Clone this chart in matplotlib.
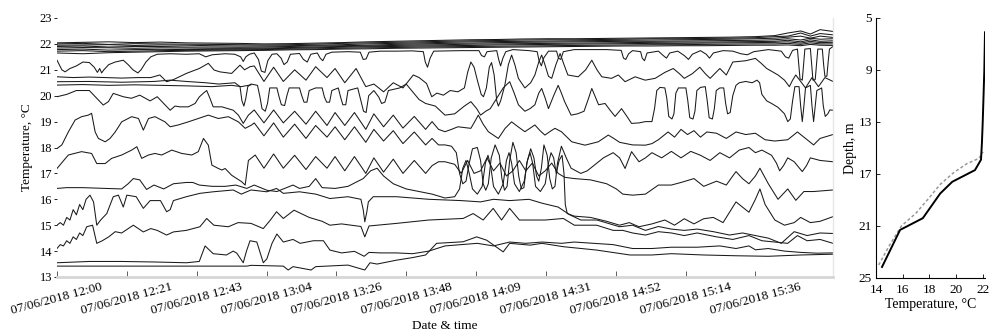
import matplotlib
matplotlib.use("Agg")
import matplotlib.pyplot as plt

plt.rcParams['font.family'] = ['Liberation Serif', 'DejaVu Serif']

# ---------------- data ----------------
tick_minutes = [0, 21.6, 43.2, 64.8, 86.4, 108, 129.6, 151.2, 172.8, 194.4, 216]
tick_labels = ["07/06/2018 12:00", "07/06/2018 12:21", "07/06/2018 12:43",
               "07/06/2018 13:04", "07/06/2018 13:26", "07/06/2018 13:48",
               "07/06/2018 14:09", "07/06/2018 14:31", "07/06/2018 14:52",
               "07/06/2018 15:14", "07/06/2018 15:36"]

t_bundle = [0, 8, 16, 24, 32, 40, 48, 56, 64, 72, 80, 88, 96, 104, 112, 120, 128, 136,
            144, 152, 160, 168, 176, 184, 192, 200, 208, 216, 222, 226, 230, 233, 236, 240]
b1 = [22.04, 22.06, 22.08, 22.05, 22.07, 22.04, 22.03, 22.02, 22.0, 22.01, 22.03, 22.05, 22.08, 22.1, 22.12, 22.14, 22.16, 22.17, 22.19, 22.2, 22.2, 22.21, 22.22, 22.23, 22.24, 22.25, 22.26, 22.28, 22.32, 22.42, 22.5, 22.38, 22.55, 22.48]
b2 = [22.0, 22.02, 21.98, 22.01, 22.0, 21.99, 21.98, 21.97, 21.96, 21.97, 21.99, 22.02, 22.04, 22.06, 22.08, 22.1, 22.12, 22.13, 22.15, 22.16, 22.16, 22.17, 22.18, 22.2, 22.2, 22.21, 22.22, 22.24, 22.28, 22.3, 22.42, 22.3, 22.4, 22.35]
b3 = [21.95, 21.96, 21.97, 21.94, 21.96, 21.95, 21.93, 21.92, 21.92, 21.93, 21.95, 21.97, 22.0, 22.02, 22.04, 22.06, 22.08, 22.09, 22.1, 22.11, 22.12, 22.13, 22.14, 22.15, 22.16, 22.17, 22.18, 22.2, 22.22, 22.26, 22.3, 22.22, 22.3, 22.25]
b4 = [21.9, 21.92, 21.88, 21.9, 21.9, 21.88, 21.88, 21.87, 21.88, 21.9, 21.92, 21.93, 21.95, 21.98, 22.0, 22.02, 22.03, 22.05, 22.06, 22.07, 22.08, 22.09, 22.1, 22.1, 22.11, 22.12, 22.13, 22.14, 22.16, 22.2, 22.15, 22.22, 22.18, 22.2]
b5 = [21.84, 21.86, 21.85, 21.83, 21.85, 21.84, 21.83, 21.83, 21.84, 21.86, 21.88, 21.9, 21.92, 21.94, 21.96, 21.97, 21.99, 22.0, 22.01, 22.02, 22.03, 22.04, 22.05, 22.06, 22.07, 22.07, 22.08, 22.09, 22.1, 22.14, 22.08, 22.16, 22.1, 22.12]
b6 = [21.78, 21.8, 21.76, 21.78, 21.79, 21.78, 21.79, 21.8, 21.81, 21.83, 21.85, 21.87, 21.89, 21.9, 21.92, 21.93, 21.94, 21.96, 21.97, 21.98, 21.99, 22.0, 22.01, 22.02, 22.02, 22.03, 22.04, 22.05, 22.06, 22.08, 22.03, 22.1, 22.05, 22.06]
b7 = [21.72, 21.74, 21.7, 21.72, 21.74, 21.75, 21.76, 21.77, 21.78, 21.8, 21.81, 21.83, 21.85, 21.86, 21.88, 21.89, 21.9, 21.91, 21.92, 21.93, 21.94, 21.95, 21.96, 21.97, 21.97, 21.98, 21.99, 22.0, 22.0, 22.02, 21.98, 22.04, 22.0, 22.0]
b8 = [21.65, 21.62, 21.66, 21.68, 21.7, 21.72, 21.73, 21.74, 21.75, 21.77, 21.78, 21.8, 21.81, 21.83, 21.84, 21.85, 21.86, 21.87, 21.88, 21.89, 21.9, 21.91, 21.92, 21.92, 21.93, 21.93, 21.94, 21.95, 21.95, 21.96, 21.93, 21.98, 21.95, 21.94]

U = [(0,21.37),(1.5,21.0),(2.5,20.92),(4,21.05),(6,21.15),(8,21.3),(10,21.28),(11.5,21.1),(12.5,20.9),(13.2,21.05),(13.8,20.88),(14.5,21.0),(16,21.2),(18,21.3),(20.5,21.37),(22,21.2),(23.5,21.0),(25,20.88),(26,21.0),(27.5,21.3),(29,21.5),(31,21.6),(35,21.62),(40,21.6),(44,21.62),(46,21.5),(48,21.58),(52,21.62),(55,21.6),(56.8,21.5),(57.6,21.32),(58.4,21.5),(59.5,21.6),(61,21.65),(62.3,21.4),(63.2,20.95),(64.3,20.9),(65.2,21.35),(66.5,21.6),(68,21.62),(69.3,21.45),(70.2,21.2),(71.2,21.3),(72.2,21.6),(75,21.63),(76.2,21.4),(77.4,21.3),(78.5,21.6),(80.5,21.65),(81.4,21.45),(82.2,21.35),(83.2,21.6),(85,21.68),(90,21.7),(93.8,21.68),(94.7,21.4),(95.6,21.42),(96.5,21.68),(100,21.72),(105,21.72),(110,21.73),(113.3,21.7),(113.9,21.3),(114.6,21.1),(115.4,21.45),(116.5,21.72),(125,21.74),(130.5,21.74),(131.3,21.55),(132.2,21.5),(133,21.7),(136,21.74),(136.6,21.4),(137.2,21.15),(137.9,21.45),(138.8,21.7),(141,21.78),(146,21.74),(148.5,21.7),(149.1,21.35),(149.8,21.15),(150.5,21.45),(152,21.72),(154.5,21.72),(155.1,21.45),(155.8,21.4),(156.6,21.7),(160,21.78),(170,21.78),(174.5,21.75),(175.2,21.45),(175.9,21.4),(176.8,21.62),(178,21.74),(180.5,21.7),(181,21.45),(181.7,21.35),(182.5,21.65),(186,21.72),(187.5,21.55),(188.5,21.45),(189.5,21.65),(192,21.72),(194,21.55),(195.3,21.4),(196.5,21.6),(199,21.74),(200.8,21.6),(201.8,21.45),(203,21.65),(206,21.74),(209,21.72),(211.5,21.62),(213.5,21.58),(215.5,21.7),(220,21.78),(224,21.72),(225.3,21.5),(226.3,21.45),(227.5,21.75),(229,21.8),(229.4,21.2),(229.8,20.65),(230.5,20.6),(230.9,21.2),(231.3,21.8),(233,21.82),(233.4,21.2),(233.8,20.6),(234.5,20.62),(234.9,21.2),(235.3,21.8),(236.7,21.8),(237.1,21.2),(237.5,20.75),(238.1,20.75),(238.5,21.3),(238.9,21.8),(240,21.9)]

A = [(0,20.73),(5,20.7),(10,20.72),(15,20.7),(20,20.68),(25,20.7),(29,20.7),(31.8,20.8),(33.9,20.54),(36,20.62),(40,20.86),(44,21.05),(46.8,21.25),(48.6,20.99),(50.4,20.92),(54,20.86),(56.6,21.18),(58,21.0),(59.7,21.12),(61,21.15),(64,20.55),(67,21.1),(70,20.55),(73.5,21.0),(77,20.6),(80,21.12),(83.5,20.7),(86,21.05),(89,20.5),(92.5,21.05),(95.5,20.35),(98,20.45),(101,20.15),(104,20.5),(107,20.3),(110.2,20.8),(112,20.7),(114.3,20.47),(115.9,19.96),(117.5,20.1),(119.5,20.02),(121.6,20.2),(124,20.15),(126,20.3),(127,20.9),(128,21.3),(129,21.1),(130,20.6),(131.2,20.05),(131.9,19.96),(132.8,20.3),(133.7,21.1),(134.4,21.28),(135.2,20.8),(136,19.8),(136.5,19.6),(137.2,19.8),(138.5,20.4),(139.6,21.2),(140.6,21.57),(141.6,21.2),(142.7,20.67),(144.7,20.3),(146.5,20.5),(147.8,20.8),(149,21.3),(149.9,21.57),(150.9,21.2),(152,20.75),(153,20.67),(154.3,21.2),(155.6,21.63),(156.8,21.2),(158,20.8),(161.2,20.73),(163.5,21.0),(165.4,21.37),(167,21.0),(168.5,20.73),(171.5,20.67),(173.6,20.8),(175.7,20.54),(178.8,20.73),(181.9,20.6),(185,20.67),(188,20.9),(190.6,21.05),(192.5,20.85),(194,20.67),(196.5,20.85),(198.8,21.1),(200.5,20.85),(202,20.67),(205,21.05),(207,20.8),(209,21.3),(213,21.35),(216,21.44),(217.8,21.25),(219.5,21.05),(223,20.8),(225,20.6),(226.5,20.35),(227.5,20.6),(228.5,20.8),(230,20.55),(231.5,20.3),(232.5,20.5),(233.5,20.7),(235.5,20.35),(237.5,20.7),(240,20.55)]

C = [(0,20.54),(10,20.55),(20,20.52),(30,20.55),(35,20.6),(40,20.55),(46,20.5),(50,20.45),(55,20.5),(56.6,20.35),(57.2,19.8),(57.8,19.6),(58.4,19.9),(59,20.35),(60,20.45),(62,20.4),(62.7,20.0),(63.4,19.5),(64.4,19.4),(65.1,19.7),(65.8,20.3),(68,20.3),(68.7,19.95),(69.4,19.65),(70.4,19.62),(71.1,20.0),(71.8,20.3),(75,20.3),(75.7,20.0),(76.4,19.75),(77.3,19.75),(78,20.2),(80,20.3),(82,20.3),(82.7,19.95),(83.4,19.75),(84.3,19.75),(85,20.2),(87,20.3),(87.7,19.95),(88.4,19.65),(89.3,19.65),(90,20.2),(93,20.3),(94,19.8),(94.8,19.4),(95.6,19.35),(96.4,20.0),(98,20.2),(99.5,19.95),(100.4,19.7),(101.4,19.75),(102.5,20.2),(106,20.3),(108,20.45),(110,20.15),(112,19.85),(114,19.7),(117,19.6),(120,19.25),(123,19.3),(126,19.6),(128,19.77),(129.8,19.5),(131,19.25),(132.6,19.4),(134,19.5),(136,19.9),(138,20.3),(140,20.54),(141.4,20.1),(142.7,19.65),(144.7,19.4),(146.3,19.5),(147.8,19.65),(149,20.1),(149.9,20.28),(151,19.9),(152,19.5),(153.6,20.0),(155,20.4),(156,20.1),(157,19.77),(159,19.25),(161,19.3),(163,19.4),(164.4,19.9),(165.4,20.28),(166.5,19.95),(167.5,19.65),(169.5,19.7),(171,19.45),(172.6,19.2),(174.6,19.5),(176,19.25),(177.7,18.93),(180,18.95),(182,19.0),(184,19.0),(184.8,19.5),(185.5,20.2),(186.5,20.32),(188,20.3),(188.6,19.9),(189.2,19.2),(190.2,19.1),(190.8,19.3),(191.4,20.1),(192.2,20.3),(194.5,20.3),(195.1,19.8),(195.7,19.15),(196.7,19.1),(197.3,19.4),(197.9,20.2),(199,20.32),(200.5,20.35),(201.1,19.8),(201.7,19.15),(202.7,19.1),(203.3,19.5),(203.9,20.2),(205,20.3),(206.2,20.3),(206.8,19.7),(207.4,19.3),(208.2,19.35),(209,20.0),(210,20.4),(211,20.5),(213,20.55),(215,20.5),(216.5,20.6),(217.3,20.5),(218,20.05),(219.5,19.8),(221,19.7),(223,19.55),(225,19.3),(226,19.0),(226.8,19.1),(227.5,19.8),(228.2,20.35),(229.5,20.35),(230,19.6),(230.5,19.0),(231,19.6),(231.5,20.3),(233,20.4),(233.5,19.6),(234,19.0),(234.5,19.6),(235,20.2),(236.5,20.3),(237,19.6),(237.6,19.2),(238.4,19.3),(239,19.45),(240,19.44)]

C2 = [(0,20.41),(8,20.43),(16,20.4),(24,20.42),(32,20.4),(40,20.38),(48,20.35),(54,20.4),(57,20.35),(60,20.42)]

D = [(0,19.96),(3,20.05),(6,20.2),(10,20.2),(12.3,19.9),(14.3,19.64),(15.9,19.77),(17.4,20.09),(20.5,19.96),(23,19.9),(25.6,20.02),(28.8,19.8),(31,19.96),(33,19.7),(35,19.44),(36.5,19.6),(38,19.57),(40.6,19.57),(42.7,19.7),(44,19.95),(45.2,20.09),(46.3,20.2),(47.3,19.9),(48.3,19.57),(51,19.57),(54.5,19.44),(56.1,19.25),(57.6,18.93),(59.2,19.25),(61,19.45),(64,18.95),(67,19.45),(70,18.95),(73.5,19.4),(77,18.9),(80,19.4),(83.5,18.85),(86,19.35),(89,18.85),(92,19.35),(95.5,18.7),(98,19.3),(101,18.8),(104,19.25),(107,18.75),(110.5,19.2),(114,18.7),(116,19.0),(118,18.7),(120,18.61),(122,18.7),(124,18.8),(128,18.74),(129.2,19.0),(130.3,19.25),(131.8,18.9),(133.4,18.61),(136.5,18.35),(138.6,18.74),(140.6,18.99),(142.6,18.8),(144.7,18.61),(147.8,18.87),(149.4,18.65),(150.9,18.48),(152.5,18.62),(154,18.74),(156,18.61),(159.2,18.22),(163.3,18.09),(167.4,18.22),(170.5,18.48),(172.2,18.35),(174,18.2),(178,18.1),(182,18.09),(184,18.15),(186,18.3),(189,18.6),(191,18.4),(193,18.7),(195,18.5),(197,18.65),(199,18.4),(201,18.6),(204,18.55),(207,18.35),(210,18.6),(213,18.5),(216,18.55),(219,18.3),(222,18.25),(226,18.3),(229,18.6),(232,18.3),(234,18.1),(236,18.35),(240,18.5)]

E = [(0,17.96),(1.5,18.1),(3.5,18.6),(5.6,19.06),(7.6,19.19),(9.7,19.25),(10.7,19.32),(11.8,18.6),(12.8,18.35),(14.9,18.22),(16.4,18.35),(18,18.6),(20,18.99),(23.1,19.19),(25.2,19.12),(26.7,18.67),(28.3,19.12),(30.3,19.19),(33.4,18.99),(35,18.8),(37.5,18.87),(40.6,18.99),(43.7,19.12),(46.8,19.25),(49.9,19.12),(53,19.19),(56.1,18.99),(58.2,18.74),(60.2,18.87),(61,18.95),(64,18.45),(67,18.95),(70,18.4),(73.5,18.9),(77,18.35),(80,18.85),(83.5,18.4),(86,18.8),(89,18.3),(92,18.8),(95.5,18.2),(98,18.7),(101,18.25),(104,18.65),(107,18.15),(110.5,18.6),(114,18.1),(116,18.35),(118,18.1),(120,18.1),(122,18.05),(123.5,17.8),(124.5,17.0),(125.5,16.6),(126.5,16.7),(127.5,17.4),(128.5,17.95),(130,18.0),(131,17.5),(131.8,16.6),(132.6,16.35),(133.4,16.6),(134.3,17.6),(135.5,18.1),(136.8,17.7),(137.6,16.8),(138.4,16.35),(139.2,16.5),(140,17.5),(141,18.2),(142,17.8),(142.8,16.9),(143.6,16.4),(144.4,16.45),(145.3,17.4),(146.5,17.95),(147.5,17.6),(148.3,16.9),(149,16.7),(149.8,17.2),(150.6,18.1),(151.6,17.7),(152.4,16.8),(153.2,16.4),(154,16.5),(154.8,17.4),(156,18.05),(157.5,17.6),(159,17.2),(162,17.0),(164,17.1),(166,17.3),(169,17.6),(172,17.8),(174,17.6),(175.7,17.19),(177.7,17.84),(180,17.45),(182,17.6),(184,17.8),(187,17.6),(190,17.85),(193,17.6),(196,17.85),(199,17.7),(202,17.5),(205,17.8),(208,17.6),(211,17.9),(214,18.0),(216,17.8),(218,17.9),(221,17.7),(222.5,17.4),(223.5,17.1),(224.7,17.3),(226,17.6),(228,17.45),(229.3,17.25),(230.5,17.07),(231.8,17.3),(233,17.6),(236,17.5),(240,17.45)]

F = [(0,17.19),(3.5,17.71),(7.6,17.84),(10.7,17.77),(12.3,17.38),(14.9,17.38),(16.9,17.58),(20,17.71),(23.1,17.9),(24.7,18.03),(26.2,17.58),(28.3,17.71),(30.3,17.77),(32.4,17.71),(35.5,17.9),(38.6,17.77),(41.7,17.71),(43.7,17.84),(45.3,18.35),(46.8,18.09),(47.9,17.32),(49.9,17.19),(51,17.13),(52,17.19),(54,16.93),(57.1,16.68),(58.2,16.55),(59.2,17.5),(61.3,17.71),(64,17.2),(67,17.75),(70,17.2),(73.5,17.7),(77,17.15),(80,17.65),(83.5,17.2),(86,17.65),(89,17.1),(92,17.65),(95.5,17.0),(98,17.6),(101,17.05),(104,17.55),(107,17.0),(110.5,17.5),(114,17.0),(116,17.3),(118,17.45),(120,17.45),(123,17.35),(125,17.0),(127,17.5),(129,17.0),(131,17.1),(133,17.6),(135,17.1),(137,17.4),(139,16.9),(141,17.1),(143,17.5),(145,17.1),(147,17.4),(149,16.9),(151,17.1),(153,17.4),(155,17.0),(157,16.85),(160,16.8),(165,16.75),(170,16.6),(173,16.4),(175,16.2),(178,16.16),(182,16.2),(186,16.55),(190,16.55),(193,16.65),(197,16.8),(200,16.5),(204,16.7),(207,16.55),(209,16.9),(210,17.07),(212,16.8),(214,16.6),(216,16.9),(217.4,17.2),(220,16.6),(223,16.0),(226,16.4),(228.5,15.96),(231,16.3),(234,16.3),(240,16.36)]

G = [(0,16.42),(3,16.45),(8,16.45),(15,16.42),(20,16.4),(22,16.6),(23.6,16.8),(25.6,16.75),(27.7,16.38),(30,16.55),(33,16.4),(36,16.6),(40,16.65),(42,16.65),(44,16.55),(48,16.5),(52,16.5),(55.3,16.55),(58.7,16.42),(61,16.55),(64.9,16.35),(68,16.3),(73,16.55),(75,16.42),(78,16.5),(80,16.8),(82,16.45),(86,16.42),(90,16.5),(94.7,16.8),(97,17.1),(99,17.2),(101,16.9),(104,16.6),(108,16.4),(112,16.3),(116,16.2),(120,16.05),(123,16.1),(124.5,16.4),(125.5,17.2),(126.5,17.5),(127.5,17.0),(128.5,16.4),(130,16.2),(131.5,16.5),(132.5,17.4),(133.3,17.7),(134.1,17.3),(135,16.5),(136.5,16.2),(138,16.6),(139,17.5),(139.8,17.8),(140.6,17.4),(141.5,16.6),(143,16.3),(144.5,16.7),(145.5,17.5),(146.3,17.8),(147.1,17.4),(148,16.5),(149.5,16.3),(151,16.6),(152,17.4),(152.8,17.8),(153.6,17.6),(154.4,17.0),(155.3,17.5),(156.2,17.7),(156.8,17.0),(157.2,15.8),(157.8,15.45),(160,15.35),(165,15.3),(170,15.15),(174,15.0),(177,15.1),(180,14.94),(184,15.05),(188,15.2),(191,15.0),(194,15.25),(197,15.05),(200,15.25),(203,15.3),(206,15.1),(208,15.5),(210,15.9),(212,15.7),(214,15.5),(216,16.0),(217.4,16.4),(219,15.8),(222,15.2),(225,15.0),(228,15.1),(230,15.3),(233,15.1),(236,15.15),(240,15.33)]

H = [(0,15.0),(1,15.1),(2,15.0),(3,15.3),(4,15.2),(5,15.6),(6,15.4),(7,15.8),(8,15.6),(9,16.0),(10.2,16.16),(11.3,15.9),(12.3,15.0),(13.5,15.2),(15.4,15.45),(17.4,16.1),(19,16.16),(20.5,15.7),(21.6,16.16),(24.5,16.1),(26.7,15.65),(28.8,15.95),(32,15.95),(33.9,15.52),(35,15.6),(36,15.95),(40,16.1),(44.2,16.23),(48.3,16.29),(54.5,16.36),(57,16.2),(60,16.36),(64.9,16.29),(67.9,16.42),(70,16.23),(75,16.29),(80,16.2),(84.4,16.03),(90,16.1),(94,16.0),(94.7,15.6),(95.2,15.13),(95.8,15.5),(96.3,15.9),(97.8,16.1),(105,16.1),(115,16.0),(125,15.95),(131,15.9),(135,16.0),(140,15.95),(146,16.0),(150,15.85),(155,15.7),(158.6,15.4),(162,15.2),(167,15.2),(174,14.94),(178,15.0),(182,14.8),(186,14.95),(190,14.85),(194,14.8),(198,14.85),(203,14.75),(208,14.62),(212,14.7),(216,14.6),(220,14.5),(224,14.3),(228,14.75),(232,14.6),(236,14.7),(240,14.68)]

I = [(0,14.1),(1,14.25),(2,14.2),(3,14.4),(4,14.3),(5,14.55),(6,14.45),(7,14.7),(8,14.6),(9.2,14.94),(11,15.0),(12.3,14.3),(14,14.4),(16,14.55),(18,14.75),(20,14.7),(23.6,15.0),(26.7,14.74),(29,14.87),(31,14.8),(33.9,14.62),(36,14.74),(40,14.8),(44.2,14.94),(46.3,15.26),(48.5,15.0),(53,14.94),(56,15.1),(60,15.07),(63.8,14.87),(66,15.2),(67.9,15.52),(70,15.26),(73.3,15.58),(78,15.3),(82,15.15),(84.4,15.0),(88,15.05),(94,14.95),(95.2,14.55),(96.5,14.97),(105,15.07),(115,15.2),(125.6,15.26),(128.7,15.45),(131.8,15.2),(134.9,15.65),(137.5,15.2),(140,15.65),(143,15.2),(146,15.2),(151,15.2),(156.6,15.26),(160,15.0),(166.9,15.0),(172,14.8),(175,14.8),(178,14.7),(182,14.62),(186,14.75),(190,14.7),(194,14.6),(198,14.7),(204,14.55),(209,14.45),(214,14.6),(218,14.4),(222,14.35),(226,14.3),(229,14.6),(232,14.4),(236,14.45),(240,14.3)]

J = [(0,13.55),(10,13.6),(20,13.6),(30,13.58),(40,13.55),(44,13.6),(45.8,14.2),(48.3,13.9),(52.4,13.85),(54.5,14.0),(55.6,13.92),(57.6,13.55),(58.6,14.0),(59.7,14.4),(61.8,14.35),(63.8,13.55),(64.9,13.7),(66.5,14.3),(68,14.66),(70,14.35),(73,14.45),(75.2,14.3),(79.3,14.4),(82.4,14.4),(84.4,14.04),(88,13.93),(92,13.99),(95,13.8),(96.5,13.95),(100,13.93),(105,13.93),(110,13.9),(115,14.0),(120,14.2),(125,14.25),(130,14.3),(135,14.2),(140,14.35),(145,14.3),(150,14.35),(156,14.3),(160,14.35),(166,14.3),(172,14.25),(178,14.1),(184,14.1),(190,14.15),(198,14.15),(205,14.2),(210,14.1),(214,14.2),(216,14.05),(220,14.1),(225,14.0),(230,13.95),(235,13.92),(240,13.93)]

K = [(0,13.42),(20,13.42),(40,13.42),(58.7,13.42),(60,13.45),(70,13.42),(71.5,13.27),(73,13.4),(78.6,13.27),(80,13.4),(90,13.46),(95.2,13.27),(96.8,13.55),(99,13.5),(105,13.65),(110,13.75),(114,13.85),(117.4,14.3),(125.6,14.36),(129.8,14.55),(132.9,14.42),(138,13.97),(140,14.3),(146.3,14.23),(150,14.3),(156.6,14.17),(166.9,14.04),(177.2,13.85),(184,13.85),(190,13.9),(200,13.85),(210,13.82),(220,13.8),(230,13.85),(240,13.88)]

# temperature profile (right panel)
prof_temp = [22.15, 22.1, 21.98, 21.92, 21.85, 21.4, 19.7, 18.8, 17.5, 15.8, 14.45]
prof_depth = [6.1, 9.0, 13.0, 14.6, 15.9, 16.7, 17.6, 18.5, 20.4, 21.3, 24.15]
prof2_temp = [14.2, 15.0, 15.9, 17.0, 18.0, 18.8, 19.8, 20.8, 21.7, 22.0]
prof2_depth = [24.0, 22.5, 21.0, 20.0, 18.8, 17.8, 16.9, 16.2, 15.8, 15.3]

# ---------------- figure ----------------
W, H_ = 993, 335
fig = plt.figure(figsize=(W / 100, H_ / 100), dpi=100)

ax = fig.add_axes([57 / W, 1 - 277 / H_, (833 - 57) / W, (277 - 18) / H_])
lc = '#1a1a1a'
lw = 0.75
for b in [b1, b2, b3, b4, b5, b6, b7, b8]:
    ax.plot(t_bundle, b, color=lc, lw=lw, solid_joinstyle='round')
for series in [U, A, C, C2, D, E, F, G, H, I, J, K]:
    xs = [p[0] for p in series]
    ys = [p[1] for p in series]
    ax.plot(xs, ys, color=lc, lw=lw, solid_joinstyle='round')

ax.set_xlim(0, 240)
ax.set_ylim(13, 23)
ax.set_yticks(range(13, 24))
ax.set_xticks(tick_minutes)
ax.set_xticklabels(tick_labels, rotation=15, ha='center', fontsize=9.5)
ax.tick_params(axis='y', labelsize=9, direction='out', length=2.5, width=0.6, pad=1)
ax.tick_params(axis='x', direction='in', length=4, width=0.6, pad=3, color='#444444')
for s in ['top', 'left']:
    ax.spines[s].set_visible(False)
ax.spines['bottom'].set_color('#d6d6d6')
ax.spines['bottom'].set_linewidth(2)
ax.spines['right'].set_color('#e6e6e6')
ax.spines['right'].set_linewidth(1)
ax.set_ylabel('Temperature, °C', fontsize=9.5, labelpad=5)
ax.set_xlabel('Date & time', fontsize=9.5, labelpad=2)

ax2 = fig.add_axes([876 / W, 1 - 278 / H_, (985 - 876) / W, (278 - 18) / H_])
ax2.plot(prof2_temp, prof2_depth, color='#999999', lw=1.1, ls=(0, (2, 1.5)))
ax2.plot(prof_temp, prof_depth, color='black', lw=1.4)
ax2.set_xlim(14, 22.15)
ax2.set_ylim(25, 5)
ax2.set_yticks([5, 9, 13, 17, 21, 25])
ax2.set_xticks([14, 16, 18, 20, 22])
ax2.tick_params(axis='x', direction='in', length=3, width=0.6, labelsize=9.5, pad=4)
ax2.tick_params(axis='y', direction='in', length=3, width=0.6, labelsize=9.5, pad=3)
for s in ['top', 'right']:
    ax2.spines[s].set_visible(False)
ax2.spines['left'].set_linewidth(0.8)
ax2.spines['bottom'].set_linewidth(0.8)
ax2.set_ylabel('Depth, m', fontsize=10, labelpad=1)
ax2.set_xlabel('Temperature, °C', fontsize=10, labelpad=2)

fig.savefig('out.png', dpi=100)
